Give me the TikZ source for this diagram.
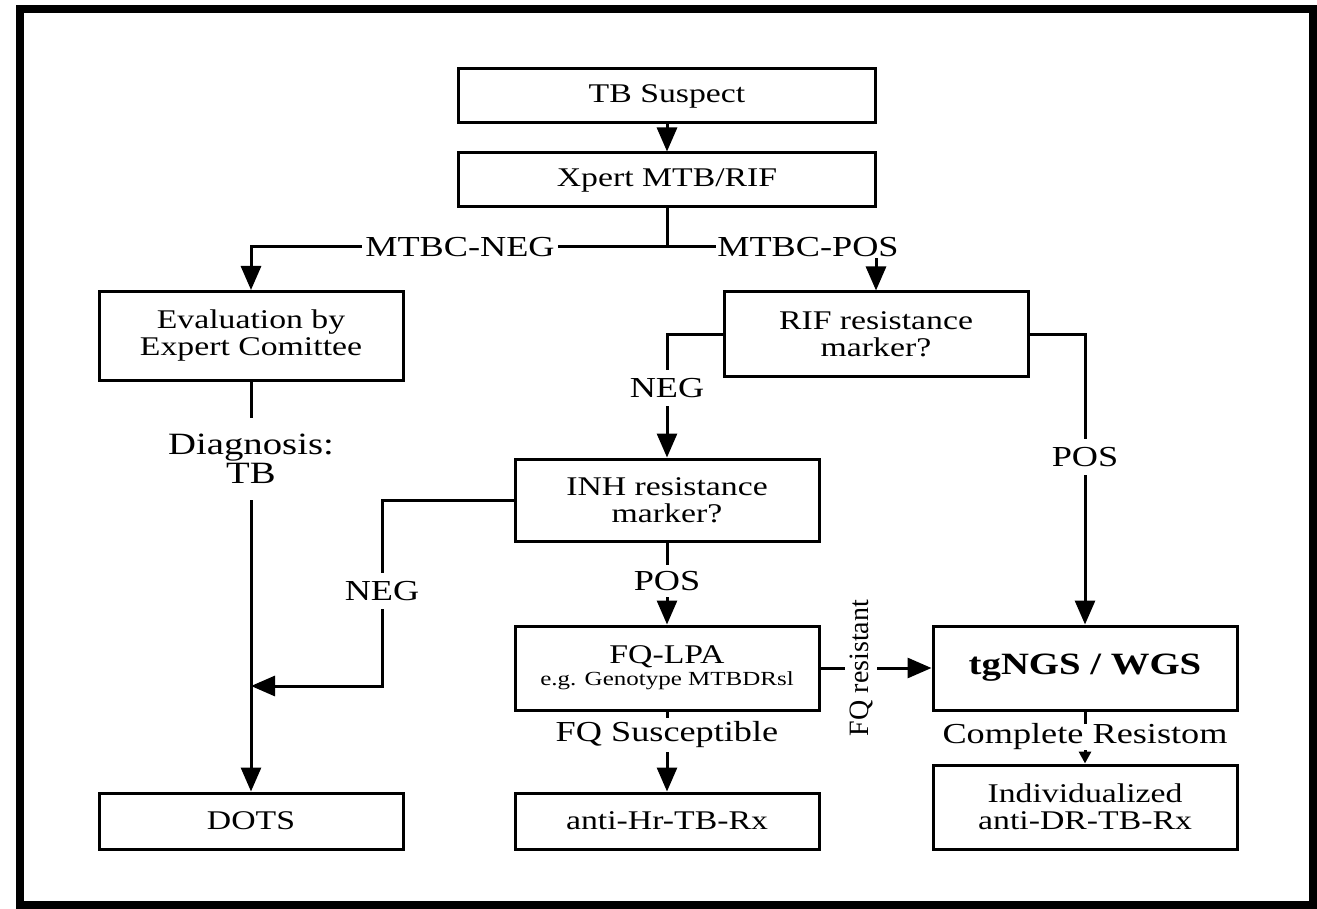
\documentclass[tikz,border=0pt]{standalone}
\usepackage{fontspec}
\setmainfont{Liberation Serif}[FakeStretch=1.25]
\newfontfamily\uprightlabel{Liberation Serif}
\usetikzlibrary{arrows.meta}

\begin{document}
\begin{tikzpicture}[x=1pt,y=-1pt,
  box/.style={draw, line width=3pt, minimum width=304pt, inner sep=0pt, align=center,
              font=\fontsize{27}{27}\selectfont},
  lbl/.style={fill=white, inner sep=3pt, align=center, font=\fontsize{29}{29}\selectfont},
  link/.style={line width=3pt},
  arr/.style={link, -{Triangle[length=24pt,width=20pt]}},
  smallarr/.style={link, -{Triangle[length=12pt,width=12pt]}}
]
\useasboundingbox (0,0) rectangle (1317,909);
% outer frame
\draw[line width=8pt] (20,9) rectangle (1313,905);

% boxes
\node[box, minimum width=417pt, minimum height=54pt] (suspect) at (667,96) {TB Suspect};
\node[box, minimum width=417pt, minimum height=54pt] (xpert) at (667,180) {Xpert MTB/RIF};
\node[box, minimum height=89pt] (eval) at (251,336) {Evaluation by\\Expert Comittee};
\node[box, minimum height=84pt] (rif) at (876,334) {RIF resistance\\marker?};
\node[box, minimum height=82pt] (inh) at (667,500) {INH resistance\\marker?};
\node[box, minimum height=84pt] (fq) at (667,668)
  {FQ-LPA\\[-5pt]{\fontsize{20}{21}\selectfont e.g. Genotype MTBDRsl}};
\node[box, minimum height=84pt, font=\bfseries\fontsize{31}{33}\selectfont] (ngs) at (1085,668) {tgNGS / WGS};
\node[box, minimum height=56pt] (dots) at (251,821) {DOTS};
\node[box, minimum height=56pt] (hr) at (667,821) {anti-Hr-TB-Rx};
\node[box, minimum height=84pt] (dr) at (1085,807) {Individualized\\anti-DR-TB-Rx};

% junction points
\coordinate (split) at (667,247);
\coordinate (negbend) at (382,686);

% connectors
\draw[arr] (suspect) -- (xpert);
\draw[link] (xpert) -- (split);
\draw[arr] (split) -| (eval.north);
\draw[arr] (split) -| (rif.north);
\draw[arr] (eval) -- (dots);
\draw[arr] (rif.west) -| (inh.north);
\draw[arr] (rif.east) -| (ngs.north);
\draw[arr] (inh.west) -| (negbend) -- (dots.north |- negbend);
\draw[arr] (inh) -- (fq);
\draw[arr] (fq) -- (hr);
\draw[arr] (fq) -- (ngs);
\draw[smallarr] (ngs) -- (dr);

% connector labels
\node[lbl] (lneg) at (460,247) {MTBC-NEG};
\node[lbl, inner sep=1pt] (lpos) at (808,247) {MTBC-POS};
\node[lbl, inner sep=0pt, minimum height=82pt, font=\fontsize{31}{29}\selectfont] (ldiag) at (251,459) {Diagnosis:\\TB};
\node[lbl, inner sep=8pt] (lneg2) at (667,388) {NEG};
\node[lbl, inner sep=8pt] (lpos2) at (1085,457) {POS};
\node[lbl, inner sep=8pt] (lneg3) at (382,591) {NEG};
\node[lbl, inner sep=6pt] (lpos3) at (667,581) {POS};
\node[lbl, inner sep=4pt, rotate=90, font=\uprightlabel\fontsize{28}{28}\selectfont] (lfqr) at (861,668) {FQ resistant};
\node[lbl, inner sep=4pt] (lfqs) at (667,735) {FQ Susceptible};
\node[lbl, inner sep=0pt] (lres) at (1085,737) {Complete Resistom};
\end{tikzpicture}
\end{document}
